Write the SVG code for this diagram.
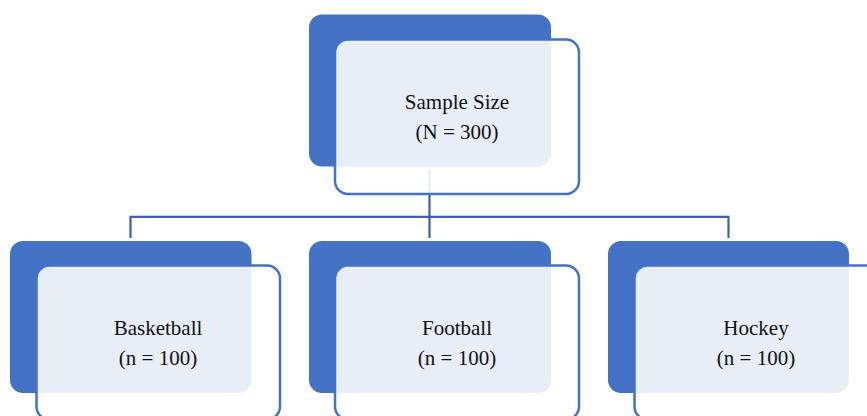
<svg xmlns="http://www.w3.org/2000/svg" width="867" height="416" viewBox="0 0 867 416">
  <style>
    .back { fill: #4472C4; }
    .front { fill: #FFFFFF; fill-opacity: 0.88; stroke: #4472C4; stroke-width: 2.5; }
    .link { fill: none; stroke: #3B62AA; stroke-width: 2.2; }
    .label { font-family: "Liberation Serif", "Times New Roman", serif; font-size: 21px; fill: #111111; text-anchor: middle; }
  </style>

  <rect width="867" height="416" fill="#FFFFFF"/>

  <!-- tree connectors, drawn first so the translucent cards soften them -->
  <g id="connectors">
    <path class="link" d="M429.5 170 V238"/>
    <path class="link" d="M130.5 238 V216.8 H728.5 V238"/>
  </g>

  <g id="sample-size">
    <rect class="back" x="309" y="14.5" width="242" height="152" rx="13"/>
    <rect class="front" x="335" y="39.5" width="244" height="154.5" rx="13"/>
    <text class="label" x="457" y="108.5">Sample Size</text>
    <text class="label" x="457" y="139">(N = 300)</text>
  </g>

  <g id="basketball">
    <rect class="back" x="10" y="241" width="241.5" height="152" rx="13"/>
    <rect class="front" x="36.5" y="265.5" width="243.5" height="154" rx="13"/>
    <text class="label" x="158" y="335">Basketball</text>
    <text class="label" x="158" y="365">(n = 100)</text>
  </g>

  <g id="football">
    <rect class="back" x="309" y="241" width="242" height="152" rx="13"/>
    <rect class="front" x="335" y="265.5" width="244" height="154" rx="13"/>
    <text class="label" x="457" y="335">Football</text>
    <text class="label" x="457" y="365">(n = 100)</text>
  </g>

  <g id="hockey">
    <rect class="back" x="608" y="241" width="241" height="152" rx="13"/>
    <rect class="front" x="634.5" y="265.5" width="244" height="154" rx="13"/>
    <text class="label" x="756" y="335">Hockey</text>
    <text class="label" x="756" y="365">(n = 100)</text>
  </g>
</svg>
